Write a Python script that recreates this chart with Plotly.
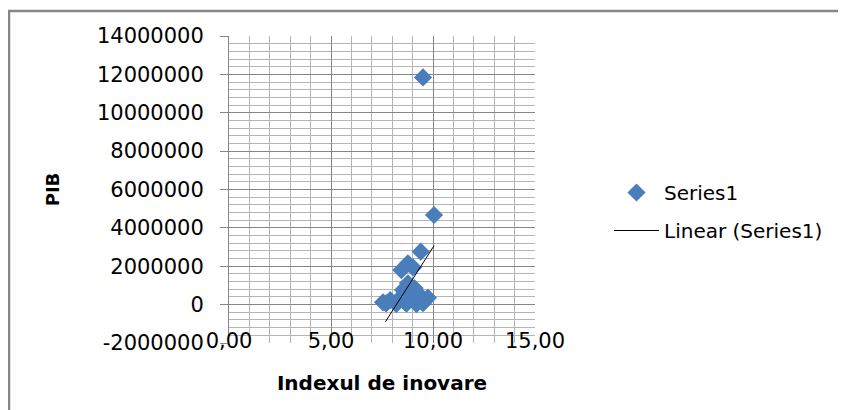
import plotly.graph_objects as go

# --- data ---
index_inovare = [9.51, 10.05, 9.40, 8.77, 9.02, 8.45, 8.77, 8.53, 9.10, 8.90,
                 9.35, 9.75, 8.37, 8.94, 9.20, 8.70, 9.19, 9.51, 8.20, 7.70,
                 7.55, 7.90, 8.60, 9.60]
pib = [11840000, 4670000, 2760000, 2150000, 1940000, 1800000, 1110000, 760000,
       850000, 600000, 500000, 360000, 330000, 330000, 250000, 50000, 20000,
       80000, 30000, 60000, 120000, 230000, 150000, 200000]

trend_x = [7.67, 10.05]
trend_y = [-890000, 3070000]

x_tickvals = [0, 5, 10, 15]
x_ticktext = ["0,00", "5,00", "10,00", "15,00"]
y_tickvals = [-2000000, 0, 2000000, 4000000, 6000000, 8000000, 10000000, 12000000, 14000000]
y_ticktext = ["-2000000", "0", "2000000", "4000000", "6000000", "8000000",
              "10000000", "12000000", "14000000"]

OFF = 8  # page body margin
W, H = 846 - OFF, 410 - OFF
L, R, T, B = 229 - OFF, 535 - OFF, 36 - OFF, 343 - OFF
pw, ph = R - L, B - T

def px_x(p):
    # p: page pixel
    return (p - OFF - L) / pw

def px_y(p):
    return (B - (p - OFF)) / ph

major = "#868686"
minor_c = "#b4b4b4"
font = "DejaVu Sans"

fig = go.Figure()
fig.add_trace(go.Scatter(
    x=index_inovare, y=pib, mode="markers", name="Series1",
    marker=dict(symbol="diamond", size=14, color="#4a7ebb", line=dict(width=0)),
    legendgroup="a",
))
fig.add_trace(go.Scatter(
    x=trend_x, y=trend_y, mode="lines", name="Linear (Series1)",
    line=dict(color="#000000", width=1), legendgroup="b",
))

fig.update_layout(
    width=W, height=H,
    margin=dict(l=L, r=W - R, t=T, b=H - B, autoexpand=False),
    paper_bgcolor="white", plot_bgcolor="white",
    font=dict(family=font, size=20, color="#000000"),
    showlegend=True,
    legend=dict(x=px_x(609), y=px_y(173), xanchor="left", yanchor="top",
                font=dict(family=font, size=20), tracegroupgap=9,
                itemwidth=45,
                traceorder="grouped", bgcolor="rgba(0,0,0,0)"),
    shapes=[dict(type="rect", xref="paper", yref="paper",
                 x0=px_x(9), x1=px_x(870), y0=px_y(11), y1=px_y(430),
                 line=dict(color=major, width=2.5), layer="below")],
)

fig.update_xaxes(
    range=[0, 15], tickmode="array", tickvals=x_tickvals, ticktext=x_ticktext,
    showgrid=True, gridcolor=major, gridwidth=1,
    zeroline=False, showline=False, ticks="",
    ticklabelstandoff=-17,
    minor=dict(tickmode="linear", tick0=0, dtick=1, showgrid=True,
               gridcolor=minor_c, gridwidth=1),
    title=dict(text="<b>Indexul de inovare</b>", font=dict(family=font, size=20),
               standoff=23),
    tickfont=dict(family=font, size=21),
    automargin=False,
)
fig.update_yaxes(
    range=[-2000000, 14000000], tickmode="array", tickvals=y_tickvals,
    ticktext=y_ticktext,
    showgrid=True, gridcolor=major, gridwidth=1,
    zeroline=False, showline=True, linecolor=major, linewidth=1,
    ticks="outside", ticklen=8, tickcolor=major,
    ticklabelstandoff=12,
    minor=dict(tickmode="linear", tick0=0, dtick=400000, showgrid=True,
               gridcolor=minor_c, gridwidth=1),
    title=dict(text="<b>PIB</b>", font=dict(family=font, size=18), standoff=32),
    tickfont=dict(family=font, size=21),
    automargin=False,
)

fig.write_html("out.html")
